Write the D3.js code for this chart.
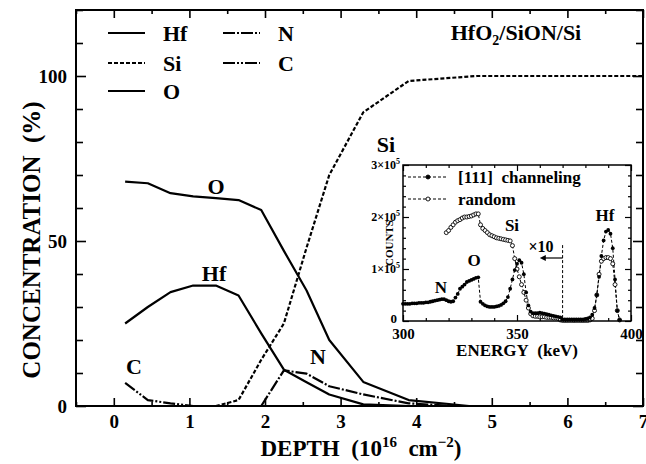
<!DOCTYPE html>
<html><head><meta charset="utf-8">
<script src="https://cdn.jsdelivr.net/npm/d3@7"></script>
<style>
body{margin:0;background:#fff;}
svg{display:block;font-family:"Liberation Serif","Times New Roman",serif;font-weight:bold;}
</style></head>
<body>
<svg id="c" width="646" height="464"></svg>
<script>
// ---------- main chart data (depth in 1e16 cm^-2, concentration %) ----------
const hfDepth = [0.15,0.45,0.75,1.05,1.35,1.65,1.95,2.25,2.55,2.85,3.3,3.9];
const hfConc  = [25,30,34.5,36.5,36.5,33.5,22,11,7.2,3.5,0.5,0];
const siDepth = [1.35,1.65,1.95,2.25,2.55,2.85,3.3,3.9,4.8,7.0];
const siConc  = [0,1.8,14,25,48,70,89,98.5,100,100];
const oDepth  = [0.15,0.45,0.75,1.05,1.35,1.65,1.95,2.25,2.55,2.85,3.3,3.9,4.7];
const oConc   = [68,67.5,64.5,63.5,63,62.4,59.4,47,35,20,7.3,1.8,0];
const nDepth  = [1.95,2.25,2.55,2.85,3.3,3.9,4.5];
const nConc   = [0,10.8,9.8,6,3.5,0.8,0];
const cDepth  = [0.15,0.45,0.75,1.05,1.35];
const cConc   = [7,1.8,0.8,0,0];
const xMajor = [0,1,2,3,4,5,6,7];
const yMajor = [0,50,100];

// ---------- inset data (energy keV, counts in units of 1e5) ----------
const chanEnergy = d3.range(300,396);
const chanCounts = [
 0.33,0.33,0.33,0.33,0.34,0.34,0.34,0.35,0.35,0.35,
 0.36,0.36,0.37,0.38,0.39,0.40,0.41,0.42,0.42,0.40,
 0.38,0.37,0.38,0.45,0.52,0.62,0.66,0.70,0.75,0.77,
 0.79,0.81,0.83,0.84,0.37,0.33,0.30,0.28,0.27,0.27,
 0.27,0.28,0.29,0.31,0.34,0.38,0.46,0.62,0.80,0.98,
 1.10,1.17,1.12,0.90,0.55,0.30,0.18,0.15,0.15,0.15,
 0.16,0.15,0.14,0.13,0.12,0.11,0.10,0.09,0.08,0.07,
 0.03,0.03,0.03,0.03,0.03,0.03,0.03,0.03,0.03,0.03,
 0.04,0.05,0.07,0.12,0.25,0.50,0.85,1.25,1.55,1.72,
 1.75,1.68,1.40,0.80,0.20,0.02];
const randEnergy = d3.range(319,396);
const randCounts = [
 1.70,1.74,1.80,1.85,1.90,1.93,1.95,1.98,2.00,2.00,
 2.01,2.02,2.04,2.06,2.06,1.85,1.78,1.74,1.70,1.66,
 1.64,1.62,1.60,1.59,1.58,1.57,1.56,1.55,1.54,1.45,
 1.20,1.00,0.85,0.70,0.55,0.40,0.25,0.14,0.10,0.09,
 0.09,0.08,0.08,0.08,0.07,0.07,0.07,0.06,0.06,0.05,
 0.02,0.01,0.01,0.01,0.01,0.01,0.01,0.01,0.01,0.01,
 0.01,0.01,0.01,0.02,0.05,0.20,0.50,0.90,1.15,1.20,
 1.22,1.22,1.20,1.10,0.70,0.20,0.02];
const insetXMajor = [300,350,400];
const insetYMajor = [0,1,2,3];

const svg = d3.select("#c");
const NB = "\u00a0";

// ---------- main scales ----------
const x = d3.scaleLinear().domain([-0.5,7]).range([76,643]);
const y = d3.scaleLinear().domain([0,120]).range([406,10]);

function series(dep, val){ return dep.map((d,i)=>[d,val[i]]); }
const line = d3.line().x(d=>x(d[0])).y(d=>y(d[1]));

const styles = {
  Hf:{dash:null}, Si:{dash:"4,2"}, O:{dash:null}, N:{dash:"12,2,2,2"}, C:{dash:"12,2,2,2,2,2"}
};
const data = [
  ["Hf",series(hfDepth,hfConc)],["Si",series(siDepth,siConc)],["O",series(oDepth,oConc)],
  ["N",series(nDepth,nConc)],["C",series(cDepth,cConc)]
];
const plot = svg.append("g");
data.forEach(([k,s])=>{
  plot.append("path").attr("d",line(s)).attr("fill","none").attr("stroke","#000")
    .attr("stroke-width",2.2).attr("stroke-dasharray",styles[k].dash).attr("stroke-linejoin","round");
});

// ---------- main axes ----------
const xMinor = d3.range(-0.5,7.01,0.5).filter(v=>!xMajor.includes(v));
const yMinor = d3.range(0,120.1,10).filter(v=>!yMajor.includes(v));
function styleAxis(g){ g.select(".domain").remove(); g.selectAll("line").attr("stroke","#000").attr("stroke-width",1.6); }
svg.append("g").attr("transform","translate(0,406)")
  .call(d3.axisBottom(x).tickValues(xMajor).tickSize(-8).tickPadding(9).tickFormat(d3.format("d")))
  .call(styleAxis).selectAll("text").attr("font-size",19).attr("font-family","Liberation Serif").attr("font-weight","bold").attr("fill","#000");
svg.append("g").attr("transform","translate(0,406)")
  .call(d3.axisBottom(x).tickValues(xMinor).tickSize(-4).tickFormat("")).call(styleAxis);
svg.append("g").attr("transform","translate(0,10)")
  .call(d3.axisTop(x).tickValues(xMajor).tickSize(-8).tickFormat("")).call(styleAxis);
svg.append("g").attr("transform","translate(0,10)")
  .call(d3.axisTop(x).tickValues(xMinor).tickSize(-4).tickFormat("")).call(styleAxis);
svg.append("g").attr("transform","translate(76,0)")
  .call(d3.axisLeft(y).tickValues(yMajor).tickSize(-10).tickPadding(9).tickFormat(d3.format("d")))
  .call(styleAxis).selectAll("text").attr("font-size",19).attr("font-family","Liberation Serif").attr("font-weight","bold").attr("fill","#000");
svg.append("g").attr("transform","translate(76,0)")
  .call(d3.axisLeft(y).tickValues(yMinor).tickSize(-7).tickFormat("")).call(styleAxis);
svg.append("g").attr("transform","translate(643,0)")
  .call(d3.axisRight(y).tickValues(yMajor).tickSize(-10).tickFormat("")).call(styleAxis);
svg.append("g").attr("transform","translate(643,0)")
  .call(d3.axisRight(y).tickValues(yMinor).tickSize(-7).tickFormat("")).call(styleAxis);
svg.append("rect").attr("x",x(-0.5)).attr("y",y(120)).attr("width",x(7)-x(-0.5)).attr("height",y(0)-y(120))
  .attr("fill","none").attr("stroke","#000").attr("stroke-width",2);

// axis titles
const xt = svg.append("text").attr("x",361).attr("y",456).attr("text-anchor","middle").attr("font-size",23);
xt.append("tspan").text("DEPTH"+NB+NB+"(10");
xt.append("tspan").attr("font-size",15).attr("dy",-9).text("16");
xt.append("tspan").attr("dy",9).text(NB+NB+"cm");
xt.append("tspan").attr("font-size",15).attr("dy",-9).text("\u22122");
xt.append("tspan").attr("dy",9).text(")");
svg.append("text").attr("transform","translate(40,240) rotate(-90)").attr("text-anchor","middle")
  .attr("font-size",25).text("CONCENTRATION"+NB+NB+"(%)");

// legend
const legendItems = [["Hf",108,33],["Si",108,63],["O",108,91],["N",223,33],["C",223,63]];
legendItems.forEach(([k,lx,ly])=>{
  svg.append("line").attr("x1",lx).attr("x2",lx+37).attr("y1",ly).attr("y2",ly)
    .attr("stroke","#000").attr("stroke-width",2.2).attr("stroke-dasharray",styles[k].dash);
  svg.append("text").attr("x",lx+55).attr("y",ly+8).attr("font-size",22).text(k);
});
// title
const tt = svg.append("text").attr("x",516).attr("y",40).attr("text-anchor","middle").attr("font-size",22);
tt.append("tspan").text("HfO");
tt.append("tspan").attr("font-size",14).attr("dy",5).text("2");
tt.append("tspan").attr("dy",-5).text("/SiON/Si");
// curve labels
[["Si",386,144],["O",216,186],["Hf",214,273],["N",318,356],["C",134,366]].forEach(([t,lx,ly])=>{
  svg.append("text").attr("x",lx).attr("y",ly+8).attr("text-anchor","middle").attr("font-size",22).text(t);
});

// ---------- inset ----------
const xi = d3.scaleLinear().domain([300,400]).range([403,631]);
const yi = d3.scaleLinear().domain([0,3]).range([321,165]);
const ins = svg.append("g");
ins.append("rect").attr("x",xi(300)).attr("y",yi(3)).attr("width",xi(400)-xi(300)).attr("height",yi(0)-yi(3)).attr("fill","#fff");
const xiMinor = d3.range(310,400,10).filter(v=>!insetXMajor.includes(v));
const yiMinor = d3.range(0.2,3,0.2).filter(v=>Math.abs(v-Math.round(v))>1e-6);
function axI(g){ g.select(".domain").remove(); g.selectAll("line").attr("stroke","#000").attr("stroke-width",1.2); }
const fmtI = d=>"";
ins.append("g").attr("transform","translate(0,321)").call(d3.axisBottom(xi).tickValues(insetXMajor).tickSize(-6).tickPadding(7).tickFormat(d3.format("d")))
  .call(axI).selectAll("text").attr("font-size",15).attr("font-family","Liberation Serif").attr("font-weight","bold").attr("fill","#000");
ins.append("g").attr("transform","translate(0,321)").call(d3.axisBottom(xi).tickValues(xiMinor).tickSize(-3).tickFormat(fmtI)).call(axI);
ins.append("g").attr("transform","translate(0,165)").call(d3.axisTop(xi).tickValues(insetXMajor).tickSize(-6).tickFormat(fmtI)).call(axI);
ins.append("g").attr("transform","translate(0,165)").call(d3.axisTop(xi).tickValues(xiMinor).tickSize(-3).tickFormat(fmtI)).call(axI);
ins.append("g").attr("transform","translate(403,0)").call(d3.axisLeft(yi).tickValues(insetYMajor).tickSize(-6).tickFormat(fmtI)).call(axI);
ins.append("g").attr("transform","translate(403,0)").call(d3.axisLeft(yi).tickValues(yiMinor).tickSize(-3).tickFormat(fmtI)).call(axI);
ins.append("g").attr("transform","translate(631,0)").call(d3.axisRight(yi).tickValues(insetYMajor).tickSize(-6).tickFormat(fmtI)).call(axI);
ins.append("g").attr("transform","translate(631,0)").call(d3.axisRight(yi).tickValues(yiMinor).tickSize(-3).tickFormat(fmtI)).call(axI);
// y tick labels
insetYMajor.forEach(v=>{
  const t = ins.append("text").attr("x",v===0?397:400).attr("y",v===0?yi(v)+2:yi(v)+4).attr("text-anchor","end").attr("font-size",v===0?13:12);
  if(v===0){ t.text("0"); }
  else { t.append("tspan").text(v+"\u00d710"); t.append("tspan").attr("font-size",8).attr("dy",-5).text("5"); }
});
// data
const ln = d3.line().x(d=>xi(d[0])).y(d=>yi(d[1]));
const chan = chanEnergy.map((e,i)=>[e,chanCounts[i]]);
const rand = randEnergy.map((e,i)=>[e,randCounts[i]]);
ins.append("path").attr("d",ln(rand)).attr("fill","none").attr("stroke","#000").attr("stroke-width",1).attr("stroke-dasharray","3,2");
ins.append("path").attr("d",ln(chan)).attr("fill","none").attr("stroke","#000").attr("stroke-width",1).attr("stroke-dasharray","3,2");
ins.selectAll("circle.r").data(rand).join("circle").attr("class","r").attr("cx",d=>xi(d[0])).attr("cy",d=>yi(d[1])).attr("r",2)
  .attr("fill","#fff").attr("stroke","#000").attr("stroke-width",0.9);
ins.selectAll("circle.ch").data(chan).join("circle").attr("class","ch").attr("cx",d=>xi(d[0])).attr("cy",d=>yi(d[1])).attr("r",1.9).attr("fill","#000");
ins.append("rect").attr("x",xi(300)).attr("y",yi(3)).attr("width",xi(400)-xi(300)).attr("height",yi(0)-yi(3))
  .attr("fill","none").attr("stroke","#000").attr("stroke-width",1.5);
// x10 marker
ins.append("line").attr("x1",xi(370)).attr("x2",xi(370)).attr("y1",yi(1.46)).attr("y2",yi(0)).attr("stroke","#000").attr("stroke-width",1).attr("stroke-dasharray","3,2");
ins.append("line").attr("x1",xi(370)).attr("x2",xi(361)).attr("y1",258).attr("y2",258).attr("stroke","#000").attr("stroke-width",1.2);
ins.append("path").attr("d",`M${xi(360)},258 l6,-3 l0,6 z`).attr("fill","#000");
ins.append("text").attr("x",541).attr("y",252).attr("text-anchor","middle").attr("font-size",16).text("\u00d710");
// inset legend
[["[111]"+NB+NB+"channeling",177,true],["random",199,false]].forEach(([t,ly,filled])=>{
  ins.append("line").attr("x1",408).attr("x2",448).attr("y1",ly).attr("y2",ly).attr("stroke","#000").attr("stroke-width",1).attr("stroke-dasharray","3,2");
  ins.append("circle").attr("cx",428).attr("cy",ly).attr("r",2).attr("fill",filled?"#000":"#fff").attr("stroke","#000").attr("stroke-width",0.9);
  ins.append("text").attr("x",458).attr("y",ly+6).attr("font-size",17).text(t);
});
// inset peak labels
[["N",441,287],["O",474,260],["Si",512,225],["Hf",605,215]].forEach(([t,lx,ly])=>{
  ins.append("text").attr("x",lx).attr("y",ly+6).attr("text-anchor","middle").attr("font-size",17).text(t);
});
ins.append("text").attr("x",517).attr("y",356).attr("text-anchor","middle").attr("font-size",17).text("ENERGY"+NB+NB+"(keV)");
ins.append("text").attr("transform","translate(393,243) rotate(-90)").attr("text-anchor","middle").attr("font-size",11).text("COUNTS");
</script>
</body></html>
